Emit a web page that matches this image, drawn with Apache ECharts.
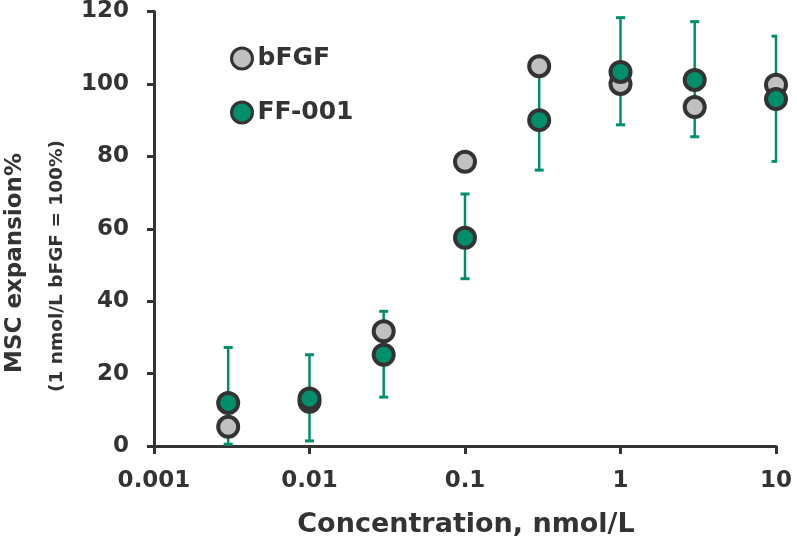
<!DOCTYPE html>
<html><head><meta charset="utf-8">
<script src="https://cdn.jsdelivr.net/npm/echarts@6/dist/echarts.min.js"></script>
<style>html,body{margin:0;padding:0;background:#fff}#c{width:797px;height:540px}</style>
</head><body><div id="c"></div>
<script>
const concentrations = [0.003, 0.01, 0.03, 0.1, 0.3, 1, 3, 10];
const bfgfValues = [5.3, 12.2, 31.7, 78.5, 104.9, 100.0, 93.6, 99.8];
const ff001Values = [11.9, 13.1, 25.2, 57.5, 90.0, 103.3, 101.1, 95.8];
const ff001Low = [0.5, 1.4, 13.5, 46.2, 76.2, 88.7, 85.4, 78.6];
const ff001High = [27.2, 25.2, 37.2, 69.6, 103.8, 118.3, 117.2, 113.2];
const xTickLabels = ['0.001', '0.01', '0.1', '1', '10'];
const yTicks = [0, 20, 40, 60, 80, 100, 120];

const FONT = 'DejaVu Sans';
const DARK = '#333333';
const GREEN = '#008f6b';
const GRAY = '#c0c0c0';

const chart = echarts.init(document.getElementById('c'), null, {renderer: 'canvas'});

const errData = concentrations.map((c, i) => [c, ff001Low[i], ff001High[i]]);

chart.setOption({
  animation: false,
  backgroundColor: '#fff',
  grid: {left: 154, right: 21, top: 10, bottom: 94, containLabel: false},
  xAxis: {
    type: 'log', logBase: 10, min: 0.001, max: 10,
    axisLine: {show: true, lineStyle: {color: DARK, width: 3}},
    axisTick: {show: true, length: 8, lineStyle: {color: DARK, width: 3}},
    minorTick: {show: false},
    splitLine: {show: false},
    axisLabel: {
      color: DARK, fontFamily: FONT, fontWeight: 'bold', fontSize: 23, margin: 24,
      formatter: function (v) {
        const k = Math.round(Math.log10(v)) + 3;
        return xTickLabels[k] !== undefined ? xTickLabels[k] : '';
      }
    }
  },
  yAxis: {
    type: 'value', min: yTicks[0], max: yTicks[yTicks.length - 1], interval: 20,
    axisLine: {show: true, lineStyle: {color: DARK, width: 3}},
    axisTick: {show: true, length: 7, lineStyle: {color: DARK, width: 3}},
    splitLine: {show: false},
    axisLabel: {color: DARK, fontFamily: FONT, fontWeight: 'bold', fontSize: 23, margin: 25}
  },
  legend: {
    orient: 'vertical', left: 225, top: 41, itemWidth: 21, itemHeight: 21, itemGap: 29,
    icon: 'circle',
    itemStyle: {borderWidth: 3},
    textStyle: {color: DARK, fontFamily: FONT, fontWeight: 'bold', fontSize: 25},
    data: ['bFGF', 'FF-001']
  },
  graphic: [
    {type: 'text', x: 466, y: 525, style: {text: 'Concentration, nmol/L', fill: DARK, font: 'bold 27px "DejaVu Sans"', align: 'center', verticalAlign: 'middle'}},
    {type: 'text', x: 15, y: 263, rotation: Math.PI / 2, style: {text: 'MSC expansion%', fill: DARK, font: 'bold 23px "DejaVu Sans"', align: 'center', verticalAlign: 'middle'}},
    {type: 'text', x: 57, y: 266, rotation: Math.PI / 2, style: {text: '(1 nmol/L bFGF = 100%)', fill: DARK, font: 'bold 18.5px "DejaVu Sans"', align: 'center', verticalAlign: 'middle'}}
  ],
  series: [
    {
      name: 'err', type: 'custom', clip: false, z: 1,
      data: errData,
      renderItem: function (params, api) {
        const x = api.value(0);
        const lo = api.coord([x, api.value(1)]);
        const hi = api.coord([x, api.value(2)]);
        const right = params.coordSys.x + params.coordSys.width + 1;
        const hw = 4.5;
        const capR = Math.min(lo[0] + hw, right);
        return {type: 'group', children: [
          {type: 'line', shape: {x1: lo[0], y1: lo[1], x2: hi[0], y2: hi[1]}, style: {stroke: GREEN, lineWidth: 2.5}},
          {type: 'line', shape: {x1: lo[0] - hw, y1: lo[1], x2: capR, y2: lo[1]}, style: {stroke: GREEN, lineWidth: 3}},
          {type: 'line', shape: {x1: hi[0] - hw, y1: hi[1], x2: capR, y2: hi[1]}, style: {stroke: GREEN, lineWidth: 3}}
        ]};
      }
    },
    {
      name: 'bFGF', type: 'scatter', z: 2, clip: false, symbol: 'circle', symbolSize: 20,
      itemStyle: {color: GRAY, borderColor: DARK, borderWidth: 4, opacity: 1},
      data: concentrations.map((c, i) => [c, bfgfValues[i]])
    },
    {
      name: 'FF-001', type: 'scatter', z: 3, clip: false, symbol: 'circle', symbolSize: 20,
      itemStyle: {color: GREEN, borderColor: DARK, borderWidth: 4, opacity: 1},
      data: concentrations.map((c, i) => [c, ff001Values[i]])
    }
  ]
});
</script></body></html>
